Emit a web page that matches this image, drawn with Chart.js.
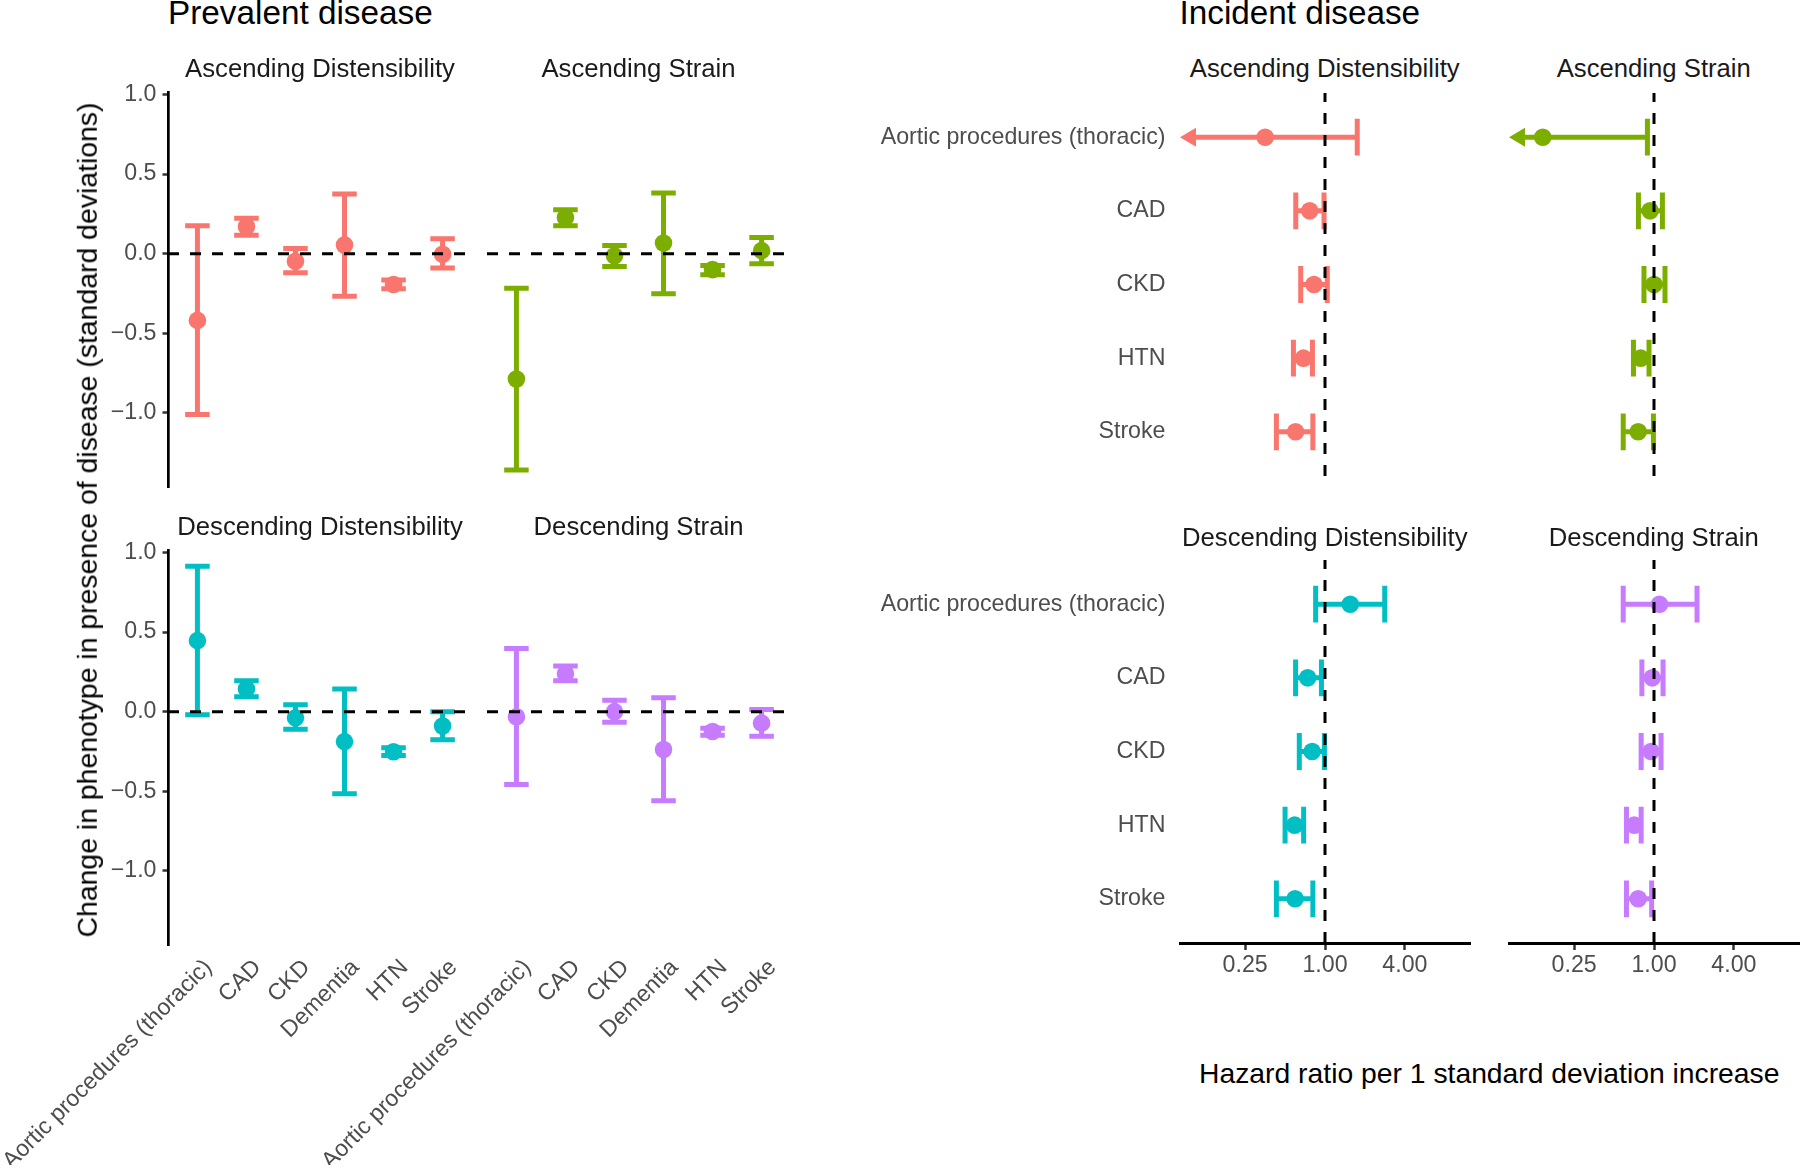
<!DOCTYPE html>
<html>
<head>
<meta charset="utf-8">
<script src="https://cdn.jsdelivr.net/npm/chart.js@4.4.1/dist/chart.umd.min.js"></script>
<style>
  html, body { margin: 0; padding: 0; background: #fff; overflow: hidden; }
  body { position: relative; width: 1800px; height: 1170px; font-family: "Liberation Sans", Arial, sans-serif; }
  canvas { position: absolute; }
  .t { position: absolute; white-space: nowrap; line-height: 1; }
</style>
</head>
<body>
<script>
// categories and ticks
const prevCats = ["Aortic procedures (thoracic)", "CAD", "CKD", "Dementia", "HTN", "Stroke"];
const incCats = ["Aortic procedures (thoracic)", "CAD", "CKD", "HTN", "Stroke"];
const sdTicks = [-1, -0.5, 0, 0.5, 1];
const hrTicks = [0.25, 1, 4];

// Prevalent disease: change in phenotype (SD), estimate + 95% CI
const ascDistEst = [-0.419, 0.170, -0.048, 0.055, -0.194, -0.004];
const ascDistLo  = [-1.010, 0.116, -0.120, -0.267, -0.221, -0.090];
const ascDistHi  = [0.175, 0.223, 0.032, 0.375, -0.166, 0.093];

const ascStrainEst = [-0.787, 0.227, -0.013, 0.067, -0.100, 0.019];
const ascStrainLo  = [-1.358, 0.175, -0.080, -0.251, -0.132, -0.063];
const ascStrainHi  = [-0.217, 0.276, 0.052, 0.381, -0.075, 0.102];

const descDistEst = [0.446, 0.142, -0.038, -0.188, -0.252, -0.090];
const descDistLo  = [-0.020, 0.093, -0.110, -0.516, -0.275, -0.177];
const descDistHi  = [0.913, 0.194, 0.043, 0.142, -0.226, 0.000];

const descStrainEst = [-0.032, 0.238, 0.000, -0.238, -0.125, -0.072];
const descStrainLo  = [-0.458, 0.194, -0.067, -0.559, -0.148, -0.154];
const descStrainHi  = [0.397, 0.287, 0.072, 0.087, -0.104, 0.014];

// Incident disease: hazard ratio per 1 SD, estimate + 95% CI
const hrAscDistEst = [0.354, 0.767, 0.826, 0.688, 0.600];
const hrAscDistLo  = [0.070, 0.602, 0.656, 0.578, 0.430];
const hrAscDistHi  = [1.750, 0.983, 1.040, 0.804, 0.810];

const hrAscStrainEst = [0.145, 0.935, 1.000, 0.794, 0.760];
const hrAscStrainLo  = [0.023, 0.763, 0.840, 0.700, 0.586];
const hrAscStrainHi  = [0.892, 1.157, 1.210, 0.917, 0.990];

const hrDescDistEst = [1.55, 0.74, 0.80, 0.59, 0.595];
const hrDescDistLo  = [0.85, 0.60, 0.64, 0.50, 0.43];
const hrDescDistHi  = [2.82, 0.94, 0.99, 0.69, 0.81];

const hrDescStrainEst = [1.10, 0.97, 0.95, 0.71, 0.76];
const hrDescStrainLo  = [0.586, 0.81, 0.80, 0.62, 0.62];
const hrDescStrainHi  = [2.11, 1.17, 1.13, 0.80, 0.96];

const RED = "#F8766D", GREEN = "#7CAE00", TEAL = "#00BFC4", PURPLE = "#C77CFF";
const FONT = "'Liberation Sans', Arial, sans-serif";
const TICK_GREY = "#4D4D4D";
const AXIS_TXT = 23.2;
Chart.defaults.font.family = FONT;

// error bars + dashed reference line, drawn through the chart scales
const errorBars = {
  id: "errorBars",
  beforeDatasetsDraw(chart, args, opts) {
    const { ctx, chartArea: a, scales: { x, y } } = chart;
    const ds = chart.data.datasets[0];
    ctx.save();
    ctx.strokeStyle = ds.backgroundColor;
    ctx.fillStyle = ds.backgroundColor;
    ctx.lineWidth = 5;
    ds.data.forEach(d => {
      ctx.beginPath();
      if (opts.horizontal) {
        const py = y.getPixelForValue(d.y);
        const h = Math.abs(y.getPixelForValue(d.y + 0.25) - py);
        const clipped = d.lo < x.min;
        const x0 = clipped ? a.left : x.getPixelForValue(d.lo);
        const x1 = x.getPixelForValue(d.hi);
        ctx.moveTo(clipped ? x0 + 8 : x0, py);
        ctx.lineTo(x1, py);
        ctx.moveTo(x1, py - h);
        ctx.lineTo(x1, py + h);
        if (!clipped) {
          ctx.moveTo(x0, py - h);
          ctx.lineTo(x0, py + h);
        }
        ctx.stroke();
        if (clipped) {
          ctx.beginPath();
          ctx.moveTo(x0, py);
          ctx.lineTo(x0 + 16, py - 9.5);
          ctx.lineTo(x0 + 16, py + 9.5);
          ctx.closePath();
          ctx.fill();
        }
      } else {
        const px = x.getPixelForValue(d.x);
        const w = Math.abs(x.getPixelForValue(d.x + 0.25) - px);
        const y0 = y.getPixelForValue(d.lo), y1 = y.getPixelForValue(d.hi);
        ctx.moveTo(px, y0); ctx.lineTo(px, y1);
        ctx.moveTo(px - w, y0); ctx.lineTo(px + w, y0);
        ctx.moveTo(px - w, y1); ctx.lineTo(px + w, y1);
        ctx.stroke();
      }
    });
    ctx.restore();
  },
  afterDatasetsDraw(chart, args, opts) {
    const { ctx, chartArea: a, scales: { x, y } } = chart;
    ctx.save();
    ctx.strokeStyle = "#000";
    ctx.lineWidth = 3;
    ctx.setLineDash([11, 11]);
    ctx.beginPath();
    if (opts.horizontal) {
      const px = x.getPixelForValue(opts.ref);
      ctx.moveTo(px, a.bottom); ctx.lineTo(px, a.top);
    } else {
      const py = y.getPixelForValue(opts.ref);
      ctx.moveTo(a.left, py); ctx.lineTo(a.right, py);
    }
    ctx.stroke();
    ctx.restore();
  }
};

const noPad = s => { s.paddingLeft = s.paddingRight = s.paddingTop = s.paddingBottom = 0; };
const fitW = w => s => { s.width = w; noPad(s); };
const fitH = h => s => { s.height = h; noPad(s); };
const sdLabel = v => (v < 0 ? "\u2212" : "") + Math.abs(v).toFixed(1);

function panel(p) {
  const c = document.createElement("canvas");
  const w = p.box.w + p.axisL + p.pad.l + p.pad.r;
  const h = p.box.h + p.axisB + p.pad.t + p.pad.b;
  c.width = w; c.height = h;
  c.style.left = (p.box.x - p.axisL - p.pad.l) + "px";
  c.style.top = (p.box.y - p.pad.t) + "px";
  c.style.width = w + "px";
  c.style.height = h + "px";
  document.body.appendChild(c);

  const horizontal = p.kind === "hr";
  const data = horizontal
    ? incCats.map((_, i) => ({ x: p.est[i], y: i, lo: p.lo[i], hi: p.hi[i] }))
    : prevCats.map((_, i) => ({ x: i, y: p.est[i], lo: p.lo[i], hi: p.hi[i] }));

  let xScale, yScale;
  if (horizontal) {
    xScale = {
      type: "logarithmic", min: 0.0807, max: 12.39, display: p.axisB > 0,
      afterBuildTicks: s => { s.ticks = hrTicks.map(v => ({ value: v })); },
      afterFit: fitH(p.axisB),
      ticks: { callback: v => Number(v).toFixed(2), font: { size: AXIS_TXT }, color: TICK_GREY, padding: 2 },
      grid: { display: true, drawOnChartArea: false, tickLength: 7, tickColor: "#333", tickWidth: 2.5 },
      border: { display: true, color: "#000", width: 3 }
    };
    yScale = {
      type: "linear", min: -0.6, max: 4.6, reverse: true, display: p.axisL > 0,
      afterBuildTicks: s => { s.ticks = incCats.map((_, i) => ({ value: i })); },
      afterFit: fitW(p.axisL),
      ticks: { callback: v => incCats[v], font: { size: AXIS_TXT }, color: TICK_GREY, padding: 14.5 },
      grid: { display: false, drawTicks: false },
      border: { display: false }
    };
  } else {
    xScale = {
      type: "linear", min: -0.6, max: 5.6, display: p.axisB > 0,
      afterBuildTicks: s => { s.ticks = prevCats.map((_, i) => ({ value: i })); },
      afterFit: fitH(p.axisB),
      ticks: { callback: v => prevCats[v], minRotation: 45, maxRotation: 45, autoSkip: false,
               font: { size: AXIS_TXT }, color: TICK_GREY, padding: 9, labelOffset: 11 },
      grid: { display: false, drawTicks: false },
      border: { display: false }
    };
    yScale = {
      type: "linear", min: -1.465, max: 1.015, display: p.axisL > 0,
      afterBuildTicks: s => { s.ticks = sdTicks.map(v => ({ value: v })); },
      afterFit: fitW(p.axisL),
      ticks: { callback: sdLabel, font: { size: AXIS_TXT }, color: TICK_GREY, padding: 6 },
      grid: { display: true, drawOnChartArea: false, tickLength: 5.5, tickColor: "#333", tickWidth: 2.5 },
      border: { display: true, color: "#000", width: 2.7 }
    };
  }

  new Chart(c, {
    type: "scatter",
    data: { datasets: [{ data, backgroundColor: p.color, borderWidth: 0, pointRadius: 8.8, pointHoverRadius: 8.8 }] },
    options: {
      responsive: false,
      animation: false,
      layout: { padding: { left: p.pad.l, right: p.pad.r, top: p.pad.t, bottom: p.pad.b } },
      scales: { x: xScale, y: yScale },
      plugins: {
        legend: { display: false },
        tooltip: { enabled: false },
        errorBars: { horizontal, ref: horizontal ? 1 : 0 }
      }
    },
    plugins: [errorBars]
  });
}

function label(str, x, baseline, size, align, color) {
  const d = document.createElement("div");
  d.className = "t";
  d.textContent = str;
  d.style.fontSize = size + "px";
  d.style.color = color || "#000";
  d.style.left = x + "px";
  d.style.top = (baseline - 0.8465 * size) + "px";
  if (align === "center") d.style.transform = "translateX(-50%)";
  document.body.appendChild(d);
  return d;
}

// panel geometry
const colA = { x: 168, w: 304 }, colB = { x: 486.5, w: 304 };
const rowL1 = { y: 92.3, h: 395.1 }, rowL2 = { y: 550, h: 395.1 };
const colC = { x: 1179.5, w: 290.5 }, colD = { x: 1508.5, w: 290.5 };
const rowR1 = { y: 92.5, h: 383 }, rowR2 = { y: 560.4, h: 383 };
const box = (c, r) => ({ x: c.x, w: c.w, y: r.y, h: r.h });

// Prevalent disease
panel({ kind: "sd", box: box(colA, rowL1), axisL: 130, axisB: 0, pad: { l: 40, r: 10, t: 30, b: 10 },
        color: RED, est: ascDistEst, lo: ascDistLo, hi: ascDistHi });
panel({ kind: "sd", box: box(colB, rowL1), axisL: 0, axisB: 0, pad: { l: 10, r: 10, t: 30, b: 10 },
        color: GREEN, est: ascStrainEst, lo: ascStrainLo, hi: ascStrainHi });
panel({ kind: "sd", box: box(colA, rowL2), axisL: 130, axisB: 220, pad: { l: 40, r: 10, t: 30, b: 0 },
        color: TEAL, est: descDistEst, lo: descDistLo, hi: descDistHi });
panel({ kind: "sd", box: box(colB, rowL2), axisL: 0, axisB: 220, pad: { l: 230, r: 10, t: 30, b: 0 },
        color: PURPLE, est: descStrainEst, lo: descStrainLo, hi: descStrainHi });

// Incident disease
panel({ kind: "hr", box: box(colC, rowR1), axisL: 320, axisB: 0, pad: { l: 10, r: 20, t: 10, b: 10 },
        color: RED, est: hrAscDistEst, lo: hrAscDistLo, hi: hrAscDistHi });
panel({ kind: "hr", box: box(colD, rowR1), axisL: 0, axisB: 0, pad: { l: 10, r: 20, t: 10, b: 10 },
        color: GREEN, est: hrAscStrainEst, lo: hrAscStrainLo, hi: hrAscStrainHi });
panel({ kind: "hr", box: box(colC, rowR2), axisL: 320, axisB: 50, pad: { l: 10, r: 20, t: 10, b: 10 },
        color: TEAL, est: hrDescDistEst, lo: hrDescDistLo, hi: hrDescDistHi });
panel({ kind: "hr", box: box(colD, rowR2), axisL: 0, axisB: 50, pad: { l: 10, r: 20, t: 10, b: 10 },
        color: PURPLE, est: hrDescStrainEst, lo: hrDescStrainLo, hi: hrDescStrainHi });

// titles, facet strips, axis titles
label("Prevalent disease", 168, 24, 33.3, "left");
label("Incident disease", 1179.5, 24, 33.3, "left");

const STRIP = 25.7, STRIP_COL = "#1A1A1A";
label("Ascending Distensibility", colA.x + colA.w / 2, 78, STRIP, "center", STRIP_COL);
label("Ascending Strain", colB.x + colB.w / 2, 78, STRIP, "center", STRIP_COL);
label("Descending Distensibility", colA.x + colA.w / 2, 536, STRIP, "center", STRIP_COL);
label("Descending Strain", colB.x + colB.w / 2, 536, STRIP, "center", STRIP_COL);
label("Ascending Distensibility", colC.x + colC.w / 2, 78, STRIP, "center", STRIP_COL);
label("Ascending Strain", colD.x + colD.w / 2, 78, STRIP, "center", STRIP_COL);
label("Descending Distensibility", colC.x + colC.w / 2, 547, STRIP, "center", STRIP_COL);
label("Descending Strain", colD.x + colD.w / 2, 547, STRIP, "center", STRIP_COL);

label("Hazard ratio per 1 standard deviation increase", (colC.x + colD.x + colD.w) / 2, 1082.5, 28.3, "center");

const yt = document.createElement("div");
yt.className = "t";
yt.textContent = "Change in phenotype in presence of disease (standard deviations)";
yt.style.fontSize = "28.4px";
yt.style.left = "87px";
yt.style.top = "519.5px";
yt.style.transform = "translate(-50%, -50%) rotate(-90deg)";
document.body.appendChild(yt);
</script>
</body>
</html>
